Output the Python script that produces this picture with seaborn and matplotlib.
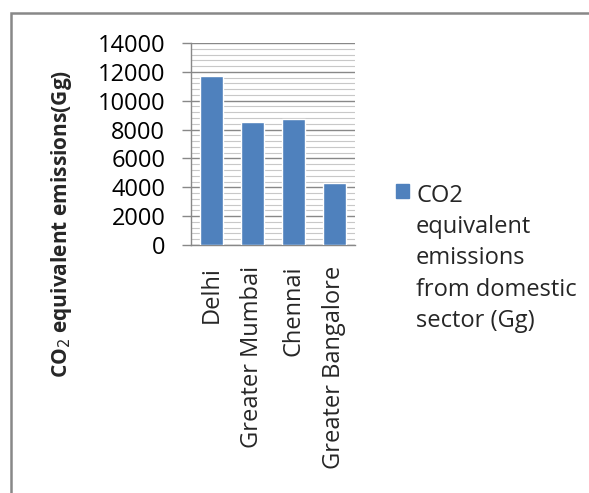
import matplotlib
matplotlib.use("Agg")
import matplotlib.pyplot as plt
import seaborn as sns
import pandas as pd
from matplotlib.ticker import MultipleLocator
from matplotlib.patches import Rectangle, Patch

cities = ["Delhi", "Greater Mumbai", "Chennai", "Greater Bangalore"]
emissions = [11700, 8500, 8700, 4300]
series_name = "CO2\nequivalent\nemissions\nfrom domestic\nsector (Gg)"
y_ticks = [0, 2000, 4000, 6000, 8000, 10000, 12000, 14000]

df = pd.DataFrame({"city": cities, "value": emissions})

sns.set_style("white")
plt.rcParams['font.family'] = ['Open Sans', 'DejaVu Sans']

FS = 17
fig = plt.figure(figsize=(5.89, 4.93), dpi=100)
ax = fig.add_axes([191/589, 1-245/493, (355-191)/589, (245-43)/493])

bar_color = "#4F81BD"
sns.barplot(data=df, x="city", y="value", color=bar_color, width=0.55, ax=ax,
            saturation=1, zorder=3)

ax.set_ylim(0, 14000)
ax.set_xlim(-0.5, 3.5)
ax.yaxis.set_minor_locator(MultipleLocator(400))
ax.set_yticks(y_ticks)
ax.set_yticklabels([str(v) for v in y_ticks], fontsize=FS, color="#000000")
ax.grid(which="major", axis="y", color="#888888", lw=1.0, zorder=0)
ax.grid(which="minor", axis="y", color="#c8c8c8", lw=0.8, zorder=0)
ax.set_axisbelow(True)
ax.tick_params(axis="y", which="major", direction="out", length=6.5, width=1,
               color="#888888", left=True, pad=12)
ax.tick_params(axis="y", which="minor", length=0)
ax.tick_params(axis="x", length=0, pad=15)
for lbl in ax.get_xticklabels():
    lbl.set_rotation(90)
    lbl.set_fontsize(FS)
ax.set_xlabel("")
ax.set_ylabel("")
for s in ["top", "right"]:
    ax.spines[s].set_visible(False)
for s in ["left", "bottom"]:
    ax.spines[s].set_color("#888888")
    ax.spines[s].set_linewidth(1)

fig.text(62/589, 1-224/493, r"CO$_2$ equivalent emissions(Gg)", rotation=90,
         ha="center", va="center", fontsize=15, fontweight="bold")

# legend
handle = Patch(facecolor=bar_color, edgecolor=bar_color)
leg = fig.legend([handle], [series_name], loc="upper left",
                 bbox_to_anchor=(396/589, 1-184/493), frameon=False,
                 fontsize=FS, handlelength=0.55, handleheight=0.55,
                 handletextpad=0.3, borderaxespad=0, borderpad=0)
for t in leg.get_texts():
    t.set_linespacing(1.4)
for col in leg._legend_handle_box.get_children():
    for row in col.get_children():
        row.align = "top"

# outer chart frame
fig.add_artist(Rectangle((11/589, -0.1), 1.2, 1-13/493+0.1, transform=fig.transFigure,
                         fill=False, edgecolor="#888888", lw=1.8))

fig.savefig("out.png", dpi=100)
